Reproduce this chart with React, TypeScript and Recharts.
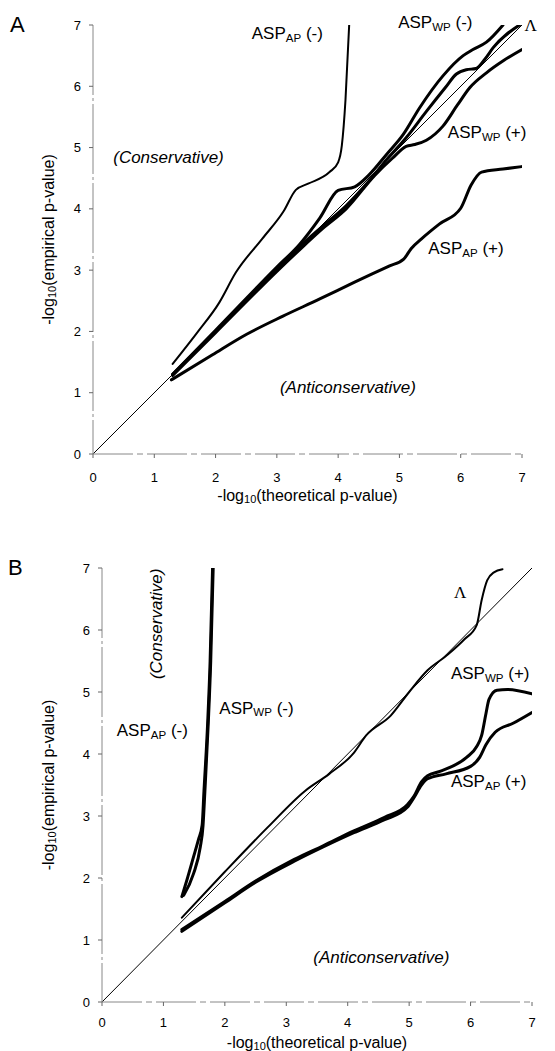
import React from "react";
import { ComposedChart, Line, XAxis, YAxis, ReferenceDot } from "recharts";

const FONT = '"Liberation Sans", Arial, Helvetica, sans-serif';
const TICKS = [0, 1, 2, 3, 4, 5, 6, 7];

type Pt = [number, number];

// panel A
const aIdentity: Pt[] = [[0, 0], [7, 7]];
const aApMinus: Pt[] = [[1.3, 1.47], [1.7, 1.98], [2.06, 2.47], [2.33, 2.96], [2.76, 3.51], [3.11, 3.96], [3.31, 4.31], [3.51, 4.41], [3.86, 4.6], [4.0, 4.76], [4.06, 5.03], [4.12, 5.78], [4.18, 7.0]];
const aWpMinus: Pt[] = [[1.3, 1.3], [2, 2.02], [3, 3.05], [3.37, 3.42], [3.7, 3.85], [4.0, 4.3], [4.27, 4.36], [4.5, 4.55], [4.8, 4.9], [5.06, 5.21], [5.33, 5.65], [5.71, 6.17], [6.04, 6.5], [6.2, 6.6], [6.42, 6.72], [6.69, 7.0]];
const aLambda: Pt[] = [[1.3, 1.3], [2, 2.0], [3, 3.0], [3.37, 3.38], [3.75, 3.72], [4.13, 4.05], [4.5, 4.45], [4.79, 4.8], [5.11, 5.16], [5.44, 5.59], [5.75, 5.98], [5.93, 6.2], [6.09, 6.27], [6.25, 6.29], [6.4, 6.45], [6.53, 6.63], [6.96, 7.0]];
const aWpPlus: Pt[] = [[1.3, 1.28], [2, 1.98], [3, 2.98], [3.4, 3.36], [3.75, 3.68], [4.13, 4.0], [4.6, 4.55], [4.89, 4.83], [5.11, 5.02], [5.25, 5.05], [5.44, 5.12], [5.71, 5.35], [5.95, 5.7], [6.15, 5.98], [6.42, 6.22], [6.7, 6.42], [7.0, 6.6]];
const aApPlus: Pt[] = [[1.28, 1.21], [1.95, 1.62], [2.5, 1.95], [3.1, 2.25], [3.7, 2.53], [4.26, 2.8], [4.84, 3.07], [5.07, 3.18], [5.19, 3.35], [5.36, 3.51], [5.65, 3.75], [6.0, 4.01], [6.17, 4.39], [6.34, 4.6], [6.69, 4.65], [7.0, 4.69]];

// panel B
const bIdentity: Pt[] = [[0, 0], [7, 7]];
const bApMinus: Pt[] = [[1.3, 1.7], [1.38, 1.96], [1.49, 2.34], [1.57, 2.62], [1.63, 2.85], [1.66, 3.4], [1.72, 4.5], [1.76, 5.5], [1.8, 7.0]];
const bWpMinus: Pt[] = [[1.33, 1.72], [1.49, 2.07], [1.6, 2.5], [1.645, 2.85], [1.675, 3.4], [1.73, 4.5], [1.77, 5.5], [1.81, 7.0]];
const bLambda: Pt[] = [[1.3, 1.36], [2.0, 2.1], [2.7, 2.82], [3.3, 3.4], [3.7, 3.68], [4.1, 4.02], [4.3, 4.3], [4.7, 4.62], [5.0, 5.0], [5.3, 5.35], [5.6, 5.58], [5.9, 5.85], [6.1, 6.08], [6.18, 6.48], [6.27, 6.8], [6.38, 6.93], [6.52, 6.98]];
const bWpPlus: Pt[] = [[1.3, 1.17], [2.0, 1.62], [2.5, 1.95], [3.13, 2.3], [3.6, 2.52], [4.1, 2.76], [4.6, 2.98], [4.97, 3.18], [5.08, 3.32], [5.2, 3.55], [5.3, 3.65], [5.5, 3.72], [5.94, 3.95], [6.1, 4.12], [6.18, 4.3], [6.25, 4.65], [6.3, 4.88], [6.43, 5.03], [6.6, 5.04], [7.0, 4.97]];
const bApPlus: Pt[] = [[1.3, 1.14], [2.0, 1.6], [2.5, 1.93], [3.13, 2.27], [3.6, 2.5], [4.1, 2.73], [4.6, 2.94], [4.97, 3.14], [5.08, 3.3], [5.2, 3.5], [5.3, 3.6], [5.6, 3.68], [6.0, 3.8], [6.15, 3.95], [6.25, 4.15], [6.4, 4.35], [6.7, 4.5], [7.0, 4.67]];

const pts = (arr: Pt[]) => arr.map(([x, y]) => ({ x, y }));

function center(vb: any) {
  return { x: vb.x + (vb.width || 0) / 2, y: vb.y + (vb.height || 0) / 2 };
}

function AspTag(props: any) {
  const { viewBox, sub, sign, size = 17 } = props;
  const c = center(viewBox);
  return (
    <text x={c.x} y={c.y} fontFamily={FONT} fontSize={size} fill="#000" dominantBaseline="central" style={{ whiteSpace: "pre" }}>
      <tspan>ASP</tspan>
      <tspan fontSize={size * 0.68} dy={size * 0.28}>{sub}</tspan>
      <tspan fontSize={size} dy={-size * 0.28}>{` (${sign})`}</tspan>
    </text>
  );
}

function Note(props: any) {
  const { viewBox, text, rotate = false, size = 17 } = props;
  const c = center(viewBox);
  return (
    <text x={c.x} y={c.y} fontFamily={FONT} fontSize={size} fontStyle="italic" fill="#000"
      textAnchor={rotate ? "middle" : "start"} dominantBaseline="central"
      transform={rotate ? `rotate(-90, ${c.x}, ${c.y})` : undefined}>
      {text}
    </text>
  );
}

function LambdaTag(props: any) {
  const c = center(props.viewBox);
  return (
    <text x={c.x} y={c.y} fontFamily='"Liberation Serif", "Times New Roman", serif' fontSize={17} fill="#000" textAnchor="middle" dominantBaseline="central">
      Λ
    </text>
  );
}

function XTitle(props: any) {
  const { viewBox, off } = props;
  const x = viewBox.x + viewBox.width / 2;
  const y = viewBox.y + off;
  return (
    <text x={x} y={y} fontFamily={FONT} fontSize={16} fill="#000" textAnchor="middle" dominantBaseline="central">
      <tspan>-log</tspan>
      <tspan fontSize={11} dy={4}>10</tspan>
      <tspan dy={-4}>(theoretical p-value)</tspan>
    </text>
  );
}

function YTitle(props: any) {
  const { viewBox } = props;
  const x = 48;
  const y = viewBox.y + viewBox.height / 2;
  return (
    <text x={x} y={y} fontFamily={FONT} fontSize={16} fill="#000" textAnchor="middle" dominantBaseline="central" transform={`rotate(-90, ${x}, ${y})`}>
      <tspan>-log</tspan>
      <tspan fontSize={11} dy={4}>10</tspan>
      <tspan dy={-4}>(empirical p-value)</tspan>
    </text>
  );
}

const tickStyle = { fontSize: 13, fontFamily: FONT, fill: "#000" };
const axisLineStyle = { stroke: "#888", strokeWidth: 1, strokeDasharray: "40 4 6 4" };

function curve(key: string, data: Pt[], width: number, linear = false) {
  return (
    <Line
      key={key}
      data={pts(data)}
      dataKey="y"
      type={linear ? "linear" : "monotone"}
      stroke="#000"
      strokeWidth={width}
      dot={false}
      activeDot={false}
      isAnimationActive={false}
      strokeLinecap="round"
    />
  );
}

function dot(key: string, x: number, y: number, label: React.ReactElement) {
  return <ReferenceDot key={key} x={x} y={y} r={0.1} fill="none" stroke="none" ifOverflow="visible" label={label} />;
}

function Panel(props: {
  height: number;
  margin: any;
  yWidth: number;
  xHeight: number;
  titleOff: number;
  tickGap: number;
  children: React.ReactNode;
}) {
  return (
    <ComposedChart width={555} height={props.height} margin={props.margin}>
      <XAxis
        type="number"
        dataKey="x"
        domain={[0, 7]}
        ticks={TICKS}
        allowDataOverflow
        height={props.xHeight}
        tick={tickStyle}
        tickSize={4}
        tickMargin={props.tickGap}
        axisLine={axisLineStyle}
        tickLine={{ stroke: "#666" }}
        label={<XTitle off={props.titleOff} />}
      />
      <YAxis
        type="number"
        domain={[0, 7]}
        ticks={TICKS}
        allowDataOverflow
        width={props.yWidth}
        tick={tickStyle}
        tickSize={4}
        tickMargin={8}
        axisLine={{ ...axisLineStyle, strokeDasharray: "70 3 3 3" }}
        tickLine={{ stroke: "#666" }}
        label={<YTitle />}
      />
      {props.children}
    </ComposedChart>
  );
}

export default function App() {
  return (
    <div style={{ position: "absolute", left: 0, top: 0, width: 555, height: 1051, background: "#fff" }}>
      <div style={{ position: "absolute", left: 10, top: 12, fontFamily: FONT, fontSize: 22 }}>A</div>
      <div style={{ position: "absolute", left: 8, top: 555, fontFamily: FONT, fontSize: 22 }}>B</div>

      <div style={{ position: "absolute", left: 0, top: 0 }}>
        <Panel height={520} margin={{ top: 25, right: 33, left: 0, bottom: 6 }} yWidth={93} xHeight={60} titleOff={41} tickGap={15}>
          {curve("id", aIdentity, 1, true)}
          {curve("apm", aApMinus, 2)}
          {curve("wpm", aWpMinus, 3)}
          {curve("lam", aLambda, 3)}
          {curve("wpp", aWpPlus, 3)}
          {curve("app", aApPlus, 3)}
          {dot("l1", 2.59, 6.87, <AspTag sub="AP" sign="-" />)}
          {dot("l2", 4.98, 7.05, <AspTag sub="WP" sign="-" />)}
          {dot("l3", 7.14, 7.0, <LambdaTag />)}
          {dot("l4", 5.79, 5.25, <AspTag sub="WP" sign="+" />)}
          {dot("l5", 5.47, 3.36, <AspTag sub="AP" sign="+" />)}
          {dot("l6", 0.33, 4.83, <Note text="(Conservative)" />)}
          {dot("l7", 3.05, 1.08, <Note text="(Anticonservative)" />)}
        </Panel>
      </div>

      <div style={{ position: "absolute", left: 0, top: 530 }}>
        <Panel height={521} margin={{ top: 38, right: 23, left: 0, bottom: 4 }} yWidth={102} xHeight={45} titleOff={40} tickGap={12}>
          {curve("id", bIdentity, 1, true)}
          {curve("apm", bApMinus, 3)}
          {curve("wpm", bWpMinus, 3)}
          {curve("lam", bLambda, 2)}
          {curve("wpp", bWpPlus, 3)}
          {curve("app", bApPlus, 3)}
          {dot("l1", 0.24, 4.38, <AspTag sub="AP" sign="-" />)}
          {dot("l2", 1.91, 4.75, <AspTag sub="WP" sign="-" />)}
          {dot("l3", 5.83, 6.6, <LambdaTag />)}
          {dot("l4", 5.68, 5.3, <AspTag sub="WP" sign="+" />)}
          {dot("l5", 5.68, 3.56, <AspTag sub="AP" sign="+" />)}
          {dot("l6", 0.88, 6.1, <Note text="(Conservative)" rotate />)}
          {dot("l7", 3.44, 0.72, <Note text="(Anticonservative)" />)}
        </Panel>
      </div>
    </div>
  );
}
